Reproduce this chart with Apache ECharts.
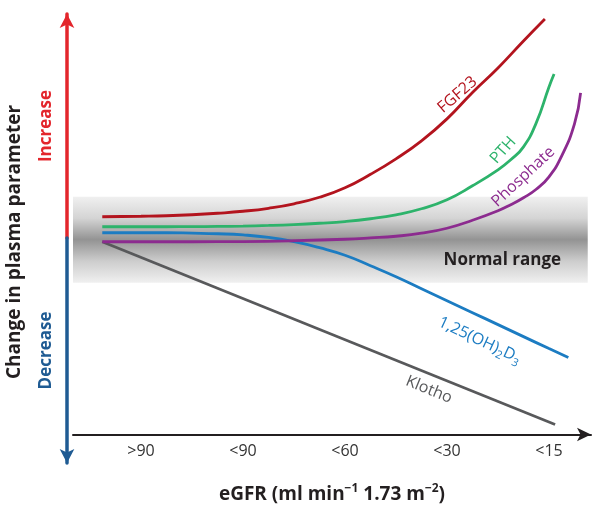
<!DOCTYPE html>
<html><head><meta charset="utf-8">
<script src="https://cdn.jsdelivr.net/npm/echarts@6/dist/echarts.min.js"></script>
<style>html,body{margin:0;padding:0;background:#fff}#c{width:600px;height:509px}</style>
</head><body><div id="c"></div>
<script>
// ---- data ----
const stageLabels = ['>90', '<90', '<60', '<30', '<15'];
const stagePositions = [1, 2, 3, 4, 5];
const fgf23 = [[0.62,2.1],[1.0,2.15],[1.25,2.2],[1.5,2.3],[1.75,2.45],[2.0,2.65],[2.25,2.95],[2.5,3.4],[2.75,4.05],[3.0,5.0],[3.25,6.35],[3.5,7.9],[3.75,9.7],[4.0,11.9],[4.25,14.55],[4.5,17.0],[4.75,19.7],[4.96,21.9]];
const pth = [[0.62,1.1],[1.0,1.1],[1.25,1.1],[1.5,1.11],[1.75,1.13],[2.0,1.17],[2.25,1.23],[2.5,1.32],[2.75,1.45],[3.0,1.62],[3.25,1.9],[3.5,2.3],[3.75,2.9],[4.0,3.8],[4.25,5.2],[4.5,6.8],[4.625,7.8],[4.75,9.1],[4.875,11.5],[5.0,15.1],[5.05,16.4]];
const phosphate = [[0.62,-0.4],[1.0,-0.4],[1.5,-0.4],[2.0,-0.38],[2.5,-0.3],[3.0,-0.15],[3.25,-0.02],[3.5,0.15],[3.75,0.45],[4.0,0.95],[4.25,1.75],[4.5,2.7],[4.625,3.3],[4.75,4.0],[4.875,4.85],[5.0,6.1],[5.125,8.2],[5.25,11.4],[5.31,14.5]];
const vitD = [[0.62,0.5],[1.0,0.5],[1.25,0.5],[1.5,0.46],[1.75,0.4],[2.0,0.28],[2.25,0.03],[2.5,-0.4],[2.75,-1.0],[3.0,-1.75],[3.25,-2.8],[3.5,-3.9],[3.75,-5.1],[4.0,-6.3],[4.25,-7.5],[4.5,-8.7],[4.75,-9.9],[5.0,-11.1],[5.19,-12.0]];
const klotho = [[0.62,-0.4],[5.06,-18.7]];
const normalRange = [-4.5, 4.1];
const normalRangeEnd = 5.38;

// ---- chart ----
const FONT = '"Open Sans", "Noto Sans", sans-serif';
const X_MIN = 0.333, X_MAX = 5.412;

function withLabel(points, idx, lab) {
  return points.map((p, i) => i === idx ? { value: p, label: Object.assign({ show: true, position: 'inside' }, lab) } : { value: p });
}
function curve(name, color, points, idx, lab, smooth) {
  return {
    type: 'line', name: name, xAxisIndex: 0, yAxisIndex: 0, z: 3,
    data: withLabel(points, idx, Object.assign({ color: color, fontFamily: FONT, fontSize: 16 }, lab)),
    smooth: smooth, symbol: 'circle', symbolSize: 0, showSymbol: true,
    lineStyle: { color: color, width: 2.8 }, itemStyle: { color: color },
    label: { show: false }, silent: true, animation: false
  };
}

const chart = echarts.init(document.getElementById('c'), null, { renderer: 'canvas' });
chart.setOption({
  animation: false,
  backgroundColor: '#fff',
  grid: [
    { left: 73, right: 9, top: 8, bottom: 74 },
    { left: 67, width: 1, top: 14, height: 224 },
    { left: 67, width: 1, top: 238, height: 225 }
  ],
  xAxis: [
    {
      type: 'value', gridIndex: 0, min: X_MIN, max: X_MAX,
      axisLine: { show: true, onZero: false, symbol: ['none', 'arrow'], symbolSize: [10, 14], lineStyle: { color: '#231f20', width: 2 } },
      axisTick: { show: false },
      splitLine: { show: false },
      axisLabel: {
        customValues: stagePositions,
        formatter: v => stageLabels[Math.round(v) - 1],
        color: '#333', fontFamily: FONT, fontSize: 16, margin: 9
      },
      name: '{a|eGFR (ml min}{s|−1}{a| 1.73 m}{s|−2}{a|)}',
      nameLocation: 'middle', nameGap: 48,
      nameTextStyle: {
        rich: {
          a: { fontFamily: FONT, fontSize: 19, fontWeight: 'bold', color: '#231f20', lineHeight: 24 },
          s: { fontFamily: FONT, fontSize: 12, fontWeight: 'bold', color: '#231f20', verticalAlign: 'top', lineHeight: 24 }
        }
      }
    },
    { type: 'value', gridIndex: 1, show: false },
    { type: 'value', gridIndex: 2, show: false }
  ],
  yAxis: [
    { type: 'value', gridIndex: 0, min: -19.7, max: 23, show: false },
    {
      type: 'value', gridIndex: 1, min: 0, max: 1,
      axisLine: { show: true, onZero: false, symbol: ['none', 'arrow'], symbolSize: [11, 14], lineStyle: { color: '#e3262c', width: 3.5 } },
      axisTick: { show: false }, axisLabel: { show: false }, splitLine: { show: false },
      name: 'Increase', nameLocation: 'middle', nameRotate: 90, nameGap: 12,
      nameTextStyle: { color: '#e3262c', fontFamily: FONT, fontWeight: 'bold', fontSize: 17 }
    },
    {
      type: 'value', gridIndex: 2, min: 0, max: 1,
      axisLine: { show: true, onZero: false, symbol: ['arrow', 'none'], symbolSize: [11, 14], lineStyle: { color: '#1f5b93', width: 3.5 } },
      axisTick: { show: false }, axisLabel: { show: false }, splitLine: { show: false },
      name: 'Decrease', nameLocation: 'middle', nameRotate: 90, nameGap: 12,
      nameTextStyle: { color: '#1f5b93', fontFamily: FONT, fontWeight: 'bold', fontSize: 17 }
    }
  ],
  graphic: [{
    type: 'text', x: 15, y: 242, rotation: Math.PI / 2,
    style: { text: 'Change in plasma parameter', textAlign: 'center', textVerticalAlign: 'middle', font: 'bold 19px ' + FONT, fill: '#231f20' }
  }],
  series: [
    {
      type: 'line', name: 'band', xAxisIndex: 0, yAxisIndex: 0, z: 1, data: [], silent: true,
      markArea: {
        silent: true,
        itemStyle: {
          color: { type: 'linear', x: 0, y: 0, x2: 0, y2: 1, colorStops: [
            { offset: 0, color: '#f0f0f0' }, { offset: 0.25, color: '#d4d4d4' },
            { offset: 0.5, color: '#939393' }, { offset: 0.75, color: '#cdcdcd' }, { offset: 1, color: '#f0f0f0' }
          ] }
        },
        label: {
          show: true, position: ['72%', '74%'], align: 'left', verticalAlign: 'middle',
          fontFamily: FONT, fontSize: 17, fontWeight: 'bold', color: '#231f20'
        },
        data: [[{ name: 'Normal range', xAxis: X_MIN, yAxis: normalRange[1] }, { xAxis: normalRangeEnd, yAxis: normalRange[0] }]]
      }
    },
    curve('Klotho', '#58595b', klotho, 1, { formatter: 'Klotho', rotate: -22, offset: [-130, 15], color: '#58595b' }, false),
    curve('1,25(OH)2D3', '#1c7cc2', vitD, 15, {
      formatter: '{a|1,25(OH)}{s|2}{a|D}{s|3}', rotate: -25, offset: [-10, 22],
      rich: {
        a: { fontFamily: FONT, fontSize: 16, color: '#1c7cc2', lineHeight: 22 },
        s: { fontFamily: FONT, fontSize: 11, color: '#1c7cc2', verticalAlign: 'bottom', lineHeight: 15 }
      }
    }, 0.5),
    curve('Phosphate', '#8c2b8f', phosphate, 14, { formatter: 'Phosphate', rotate: 43, offset: [-1, -18] }, 0.5),
    curve('PTH', '#2db36b', pth, 16, { formatter: 'PTH', rotate: 48, offset: [2, -12] }, 0.5),
    curve('FGF23', '#b3141e', fgf23, 14, { formatter: 'FGF23', rotate: 41, offset: [-13, -8] }, 0.5)
  ]
});
</script></body></html>
